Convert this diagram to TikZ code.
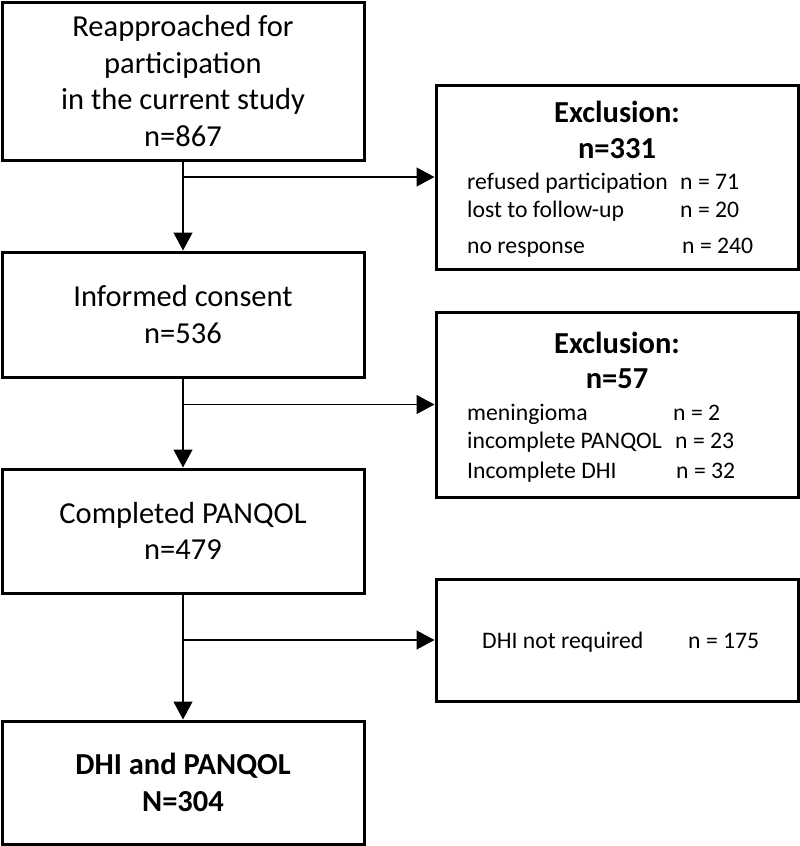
\documentclass[tikz,border=0pt]{standalone}
\usepackage{fontspec}
\setmainfont{Carlito}
\usetikzlibrary{arrows.meta}
\begin{document}
\begin{tikzpicture}[x=1pt,y=-1pt,
  mainbox/.style={draw, line width=3pt, minimum width=362pt, align=center, inner sep=0pt, font=\fontsize{30.5}{36.7}\selectfont},
  sidebox/.style={draw, line width=3pt, minimum width=362pt, inner sep=0pt},
  conn/.style={line width=1.3pt},
  arr/.style={conn, -{Triangle[length=18pt,width=19pt]}},
  item/.style={anchor=base west, inner sep=0pt, font=\fontsize{23.7}{28}\selectfont},
  head/.style={anchor=base, inner sep=0pt, font=\bfseries\fontsize{30.5}{36}\selectfont}]
\useasboundingbox (0,0) rectangle (800,846);

% main column
\node[mainbox, minimum height=158pt] (n1) at (183,81) {Reapproached for\\participation\\in the current study\\n=867};
\node[mainbox, minimum height=125pt] (n2) at (183,314.5) {Informed consent\\n=536};
\node[mainbox, minimum height=124pt] (n3) at (183,531) {Completed PANQOL\\n=479};
\node[mainbox, minimum height=123pt, font=\bfseries\fontsize{30.5}{36.7}\selectfont] (n4) at (183,782.5) {DHI and PANQOL\\N=304};

% side boxes
\node[sidebox, minimum height=184pt] (r1) at (617,177) {};
\node[sidebox, minimum height=185pt] (r2) at (617,404.5) {};
\node[sidebox, minimum height=122pt] (r3) at (617,640) {};

% R1 content
\node[head] (r1h1) at (617,122) {Exclusion:};
\node[head] (r1h2) at (617,158) {n=331};
\node[item] (r1a) at (467,189) {refused participation};
\node[item] (r1an) at (680,189) {n = 71};
\node[item] (r1b) at (467,217) {lost to follow-up};
\node[item] (r1bn) at (680,217) {n = 20};
\node[item] (r1c) at (467,253) {no response};
\node[item] (r1cn) at (682,253) {n = 240};

% R2 content
\node[head] (r2h1) at (617,353) {Exclusion:};
\node[head] (r2h2) at (617,388) {n=57};
\node[item] (r2a) at (467,420) {meningioma};
\node[item] (r2an) at (673,420) {n = 2};
\node[item] (r2b) at (467,448) {incomplete PANQOL};
\node[item] (r2bn) at (675,448) {n = 23};
\node[item] (r2c) at (467,478) {Incomplete DHI};
\node[item] (r2cn) at (676,478) {n = 32};

% R3 content
\node[item] (r3a) at (482,648) {DHI not required};
\node[item] (r3an) at (688,648) {n = 175};

% connectors
\draw[arr] (n1.south) -- (n2.north);
\draw[arr] (n2.south) -- (n3.north);
\draw[arr] (n3.south) -- (n4.north);
\coordinate (j1) at (n1.south |- r1.west);
\coordinate (j2) at (n2.south |- r2.west);
\coordinate (j3) at (n3.south |- r3.west);
\draw[arr] (j1) -- (r1.west);
\draw[arr] (j2) -- (r2.west);
\draw[arr] (j3) -- (r3.west);
\end{tikzpicture}
\end{document}
